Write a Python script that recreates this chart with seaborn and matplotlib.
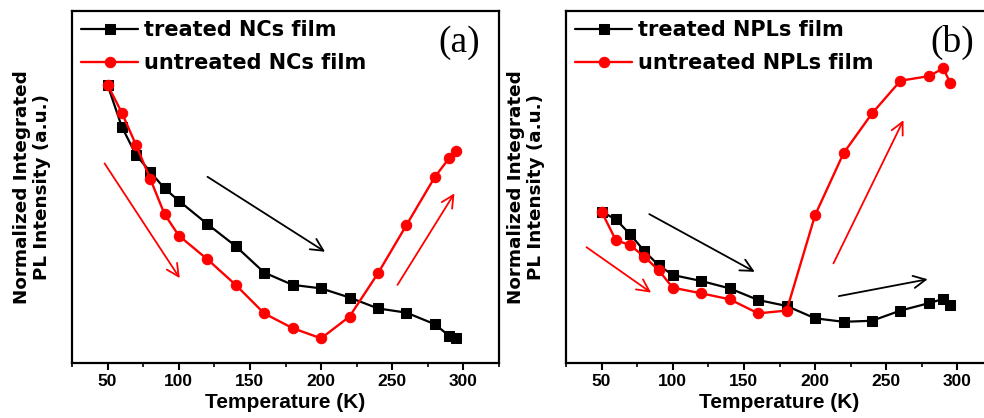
import matplotlib
matplotlib.use("Agg")
import matplotlib.pyplot as plt
from matplotlib.ticker import MultipleLocator
import seaborn as sns
import pandas as pd

# Temperature grid (K)
temps = [50, 60, 70, 80, 90, 100, 120, 140, 160, 180, 200, 220, 240, 260, 280, 290, 295]

# Normalized integrated PL intensity, panel (a): nanocrystal films
treated_ncs = [0.790, 0.671, 0.591, 0.543, 0.496, 0.461, 0.395, 0.332, 0.257, 0.222,
               0.212, 0.186, 0.155, 0.143, 0.110, 0.077, 0.070]
untreated_ncs = [0.790, 0.711, 0.619, 0.523, 0.423, 0.362, 0.295, 0.222, 0.141, 0.099,
                 0.070, 0.132, 0.255, 0.392, 0.529, 0.582, 0.603]

# Panel (b): nanoplatelet films
treated_npls = [0.430, 0.408, 0.366, 0.318, 0.278, 0.250, 0.233, 0.212, 0.179, 0.162,
                0.127, 0.117, 0.120, 0.149, 0.170, 0.182, 0.165]
untreated_npls = [0.430, 0.349, 0.335, 0.302, 0.264, 0.214, 0.198, 0.181, 0.141, 0.149,
                  0.420, 0.596, 0.709, 0.802, 0.815, 0.837, 0.796]

labels_a = ["treated NCs film", "untreated NCs film"]
labels_b = ["treated NPLs film", "untreated NPLs film"]
xticks = [50, 100, 150, 200, 250, 300]

# Trend arrows: (T_start, I_start, T_end, I_end, colour)
arrows_a = [(47.9, 0.567, 100.7, 0.241, "red"),
            (120.2, 0.529, 202.8, 0.316, "black"),
            (253.7, 0.222, 293.7, 0.482, "red")]
arrows_b = [(39.4, 0.329, 84.8, 0.200, "red"),
            (83.5, 0.423, 157.6, 0.259, "black"),
            (212.9, 0.283, 262.1, 0.690, "red"),
            (216.7, 0.190, 279.1, 0.238, "black")]

sns.set_style("ticks")
plt.rcParams["font.family"] = ["Liberation Sans", "DejaVu Sans"]
plt.rcParams["font.weight"] = "bold"
plt.rcParams["text.color"] = "black"
plt.rcParams["axes.labelcolor"] = "black"
plt.rcParams["xtick.color"] = "black"
plt.rcParams["ytick.color"] = "black"

W, H = 984, 418
fig = plt.figure(figsize=(W / 100, H / 100), dpi=100)
ax_a = fig.add_axes([72 / W, 55 / H, 427 / W, 352 / H])
ax_b = fig.add_axes([566 / W, 55 / H, 427 / W, 352 / H])

WIDE = ["DejaVu Sans"]


def draw_panel(ax, treated, untreated, labels, tag, arrows):
    df = pd.DataFrame({"T": temps, "treated": treated, "untreated": untreated})
    sns.lineplot(data=df, x="T", y="treated", ax=ax, color="black", marker="s",
                 markersize=6.5, markeredgecolor="black", linewidth=1.6,
                 label=labels[0])
    sns.lineplot(data=df, x="T", y="untreated", ax=ax, color="#ff0000", marker="o",
                 markersize=7.5, markeredgecolor="#ff0000", linewidth=1.7,
                 label=labels[1])
    for t0, i0, t1, i1, c in arrows:
        ax.annotate("", xy=(t1, i1), xytext=(t0, i0),
                    arrowprops=dict(arrowstyle="->", color=c, lw=1.3,
                                    mutation_scale=22, shrinkA=0, shrinkB=0))
    ax.set_xlim(25, 325)
    ax.set_ylim(0, 1)
    ax.set_yticks([])
    ax.set_xticks(xticks)
    ax.xaxis.set_minor_locator(MultipleLocator(25))
    ax.tick_params(axis="x", which="major", length=5, width=1.5, direction="out",
                   labelsize=12.5, pad=3, colors="black")
    ax.tick_params(axis="x", which="minor", length=3, width=1.2, direction="out",
                   colors="black")
    for lab in ax.get_xticklabels():
        lab.set_fontweight("bold")
    for sp in ax.spines.values():
        sp.set_visible(True)
        sp.set_linewidth(1.6)
        sp.set_color("black")
    ax.set_xlabel("Temperature (K)", fontsize=15, fontweight="bold", labelpad=3,
                  color="black")
    ax.set_ylabel("Normalized Integrated\nPL Intensity (a.u.)", fontsize=13.2,
                  fontweight="bold", linespacing=1.15, family=WIDE, color="black")
    ax.yaxis.set_label_coords(-0.05, 0.5)
    leg = ax.legend(loc="upper left", frameon=False,
                    prop={"family": WIDE, "weight": "bold", "size": 15},
                    handlelength=2.7, handletextpad=0.33, labelspacing=0.6,
                    borderaxespad=0.25, borderpad=0.2)
    for txt in leg.get_texts():
        txt.set_color("black")
    ax.text(0.955, 0.91, tag, transform=ax.transAxes, ha="right", va="center",
            fontsize=27, family=["Liberation Serif", "DejaVu Serif"],
            fontweight="normal", color="black")


draw_panel(ax_a, treated_ncs, untreated_ncs, labels_a, "(a)", arrows_a)
draw_panel(ax_b, treated_npls, untreated_npls, labels_b, "(b)", arrows_b)

fig.savefig("out.png", dpi=100)
